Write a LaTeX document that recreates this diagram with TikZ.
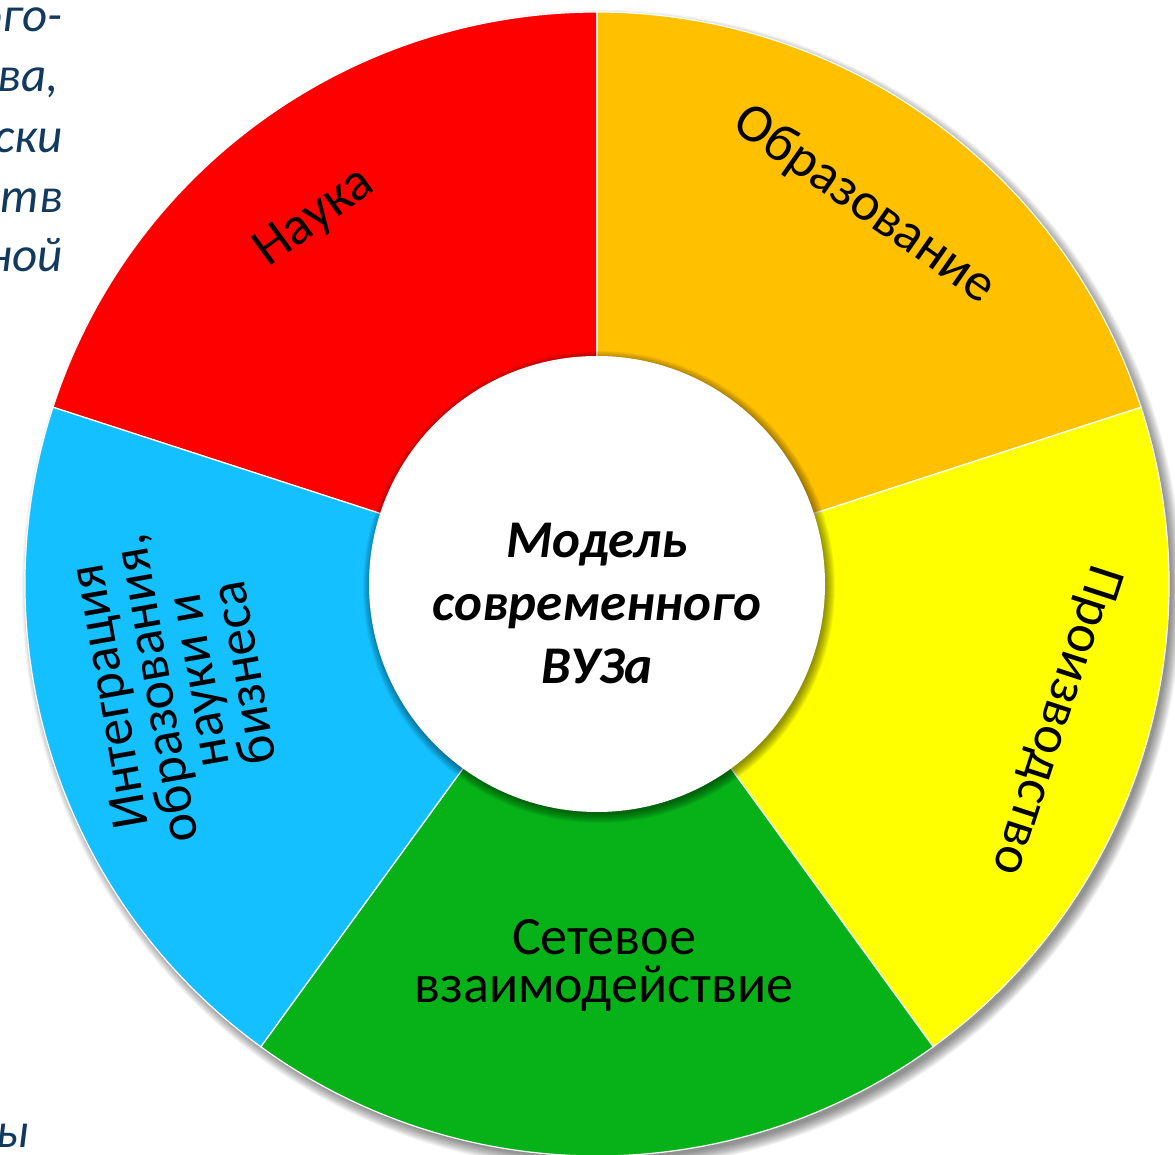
\documentclass[tikz,border=0pt]{standalone}
\usepackage{fontspec}
\setmainfont{Carlito}
\usetikzlibrary{calc}
\definecolor{cred}{RGB}{255,0,0}
\definecolor{corange}{RGB}{255,192,0}
\definecolor{cyellow}{RGB}{255,255,0}
\definecolor{cgreen}{RGB}{6,178,24}
\definecolor{cblue}{RGB}{20,192,255}
\definecolor{ctext}{RGB}{18,58,94}
\begin{document}
\begin{tikzpicture}[x=1pt,y=1pt,
  segtext/.style={font=\fontsize{54}{48}\selectfont, inner sep=0pt, text=black},
  centertext/.style={font=\fontsize{53}{63}\selectfont\bfseries\itshape, inner sep=0pt, align=center},
  frag/.style={font=\fontsize{49}{58}\selectfont\itshape, text=ctext, inner sep=0pt, anchor=base east},
  seg/.style={draw=white, line width=1.2pt}]
\useasboundingbox (0,0) rectangle (1175,1155);
\fill[white] (0,0) rectangle (1175,1155);
\coordinate (C) at (597,571);
\def\R{572}
\def\r{228}
% background text fragments
\node[frag] (f1) at (63,1123) {ого-};
\node[frag] (f2) at (59,1063) {ва,};
\node[frag] (f3) at (63,1002) {ски};
\node[frag] (f4) at (63,942) {ств};
\node[frag] (f5) at (63,883) {ной};
\node[frag] (f6) at (29,7) {ы};
% outer shadow
\foreach \k in {0,...,11}
  \fill[black,opacity=0.045] ($(C)+(5,-6)$) circle[radius=\R+8-\k];
% segments
\foreach \a/\b/\c in {90/162/cred, 18/90/corange, -54/18/cyellow, -126/-54/cgreen, 162/234/cblue}
  \filldraw[seg, fill=\c] (C) -- ++(\a:\R) arc[start angle=\a, end angle=\b, radius=\R] -- cycle;
% inner shadow
\foreach \k in {0,...,9}
  \fill[black,opacity=0.05] ($(C)+(2,-3)$) circle[radius=\r+8-\k];
\fill[white] (C) circle[radius=\r];
% labels
\node[segtext, rotate=36] (nauka) at (315,937) {Наука};
\node[segtext, rotate=-35] (obr) at (864,950) {Образование};
\node[segtext, rotate=-108] (proizv) at (1055,435) {Производство};
\node[segtext, align=center] (setev) at (604,190) {Сетевое\\взаимодействие};
\node[segtext, align=center, rotate=100, font=\fontsize{54}{44}\selectfont] (integr) at (176,470) {Интеграция\\образования,\\науки и\\бизнеса};
\node[centertext] (model) at (597,551) {Модель\\современного\\ВУЗа};
\end{tikzpicture}
\end{document}
